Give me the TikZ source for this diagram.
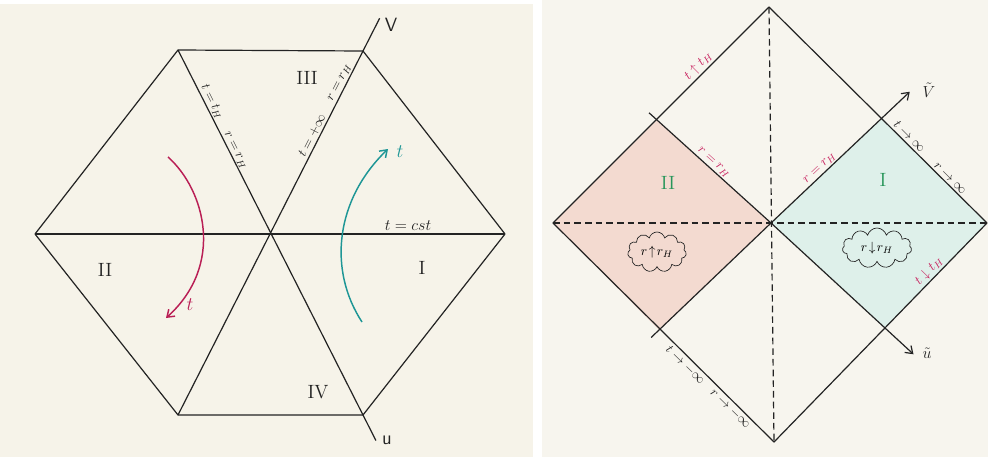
\documentclass[tikz,border=0pt]{standalone}
\usetikzlibrary{arrows.meta,shapes.symbols,calc}
\definecolor{paperL}{RGB}{246,243,233}
\definecolor{paperR}{RGB}{247,245,238}
\definecolor{pinkfill}{RGB}{243,218,208}
\definecolor{tealfill}{RGB}{222,240,234}
\definecolor{mag}{RGB}{200,35,95}
\definecolor{redpen}{RGB}{185,30,85}
\definecolor{tealpen}{RGB}{30,150,150}
\definecolor{greenpen}{RGB}{40,150,90}
\definecolor{ink}{RGB}{35,35,35}
\begin{document}
\begin{tikzpicture}[x=0.75pt,y=-0.75pt,
  pen/.style={ink, line width=0.9pt},
  dashline/.style={ink, line width=0.9pt, dash pattern=on 5pt off 3pt},
  lbl/.style={font=\normalsize, inner sep=1.5pt, ink},
  mlbl/.style={font=\normalsize, inner sep=1.5pt, mag},
  roman/.style={font=\Large, ink},
  groman/.style={font=\Large, greenpen},
  tip/.style={-{Straight Barb[length=5pt,width=7pt]}},
  cloudbox/.style={cloud, draw=ink, line width=0.5pt, cloud puffs=11, aspect=1.7, inner sep=0pt, font=\normalsize}
]
\useasboundingbox (0,0) rectangle (988,457);
\fill[white] (0,0) rectangle (988,457);
\fill[paperL] (0,4) rectangle (533,457);
\fill[paperR] (542,0) rectangle (988,457);

% ---------------- left: hexagon ----------------
\coordinate (A) at (35,234);
\coordinate (B) at (178,50);
\coordinate (TR) at (363,51);
\coordinate (D) at (505,234);
\coordinate (BR) at (363,415);
\coordinate (BL) at (178,415);
\coordinate (O) at (270,234);
\coordinate (Vend) at ($(BL)!1.09!(TR)$);
\coordinate (Uend) at ($(B)!1.07!(BR)$);

\draw[pen, line join=round] (A) -- (B) -- (TR) -- (D) -- (BR) -- (BL) -- cycle;
\draw[pen] (A) -- (D);
\draw[pen] (B) -- (Uend);
\draw[pen] (BL) -- (Vend);

\node[lbl, font=\Large\sffamily] (Vlab) at (391,25) {V};
\node[lbl, font=\Large\sffamily] (ulab) at (387,440) {u};

\node[roman] (r3) at (307,78) {III};
\node[roman] (r4) at (318,392) {IV};
\node[roman] (r2) at (105,270) {II};
\node[roman] (r1) at (422,268) {I};

\path (B) -- (O)
  node[lbl, pos=0.30, sloped, above] (ltH) {$t=t_H$}
  node[lbl, pos=0.56, sloped, above] (lrH) {$r=r_H$};
\path (O) -- (TR)
  node[lbl, pos=0.52, sloped, above] (ltinf) {$t=+\infty$}
  node[lbl, pos=0.81, sloped, above] (lrH2) {$r=r_H$};
\node[lbl, font=\large, anchor=south] (tcst) at (408,233) {$t=cst$};

\coordinate (rs) at (168,157);
\coordinate (re) at (166,318);
\draw[redpen, line width=1.1pt, tip] (rs) .. controls (205,190) and (225,265) .. (re);
\node[font=\Large, redpen] (rt) at (190,305) {$t$};

\coordinate (ts) at (362,322);
\coordinate (te) at (388,149);
\draw[tealpen, line width=1.1pt, tip] (ts) .. controls (328,270) and (335,200) .. (te);
\node[font=\Large, tealpen] (tt) at (400,152) {$t$};

% ---------------- right: Penrose diagram ----------------
\coordinate (T) at (769,7);
\coordinate (L) at (553,223);
\coordinate (R) at (987,223);
\coordinate (Bt) at (774,442);
\coordinate (C) at (771,223);
\coordinate (UL) at (657,120);
\coordinate (UR) at (882,118);
\coordinate (LL) at (659,330);
\coordinate (LR) at (885,328);
\coordinate (ULx) at ($(C)!1.07!(UL)$);
\coordinate (LLx) at ($(C)!1.07!(LL)$);
\coordinate (Vt) at ($(C)!1.25!(UR)$);
\coordinate (Ut) at ($(C)!1.25!(LR)$);

\fill[pinkfill] (L) -- (UL) -- (C) -- (LL) -- cycle;
\fill[tealfill] (C) -- (UR) -- (R) -- (LR) -- cycle;

\draw[dashline] (L) -- (R);
\draw[dashline] (T) -- (Bt);

\draw[pen, line join=round] (T) -- (R) -- (Bt) -- (L) -- cycle;
\draw[pen] (C) -- (ULx);
\draw[pen] (C) -- (LLx);
\draw[pen, tip] (C) -- (Vt);
\draw[pen, tip] (C) -- (Ut);

\node[lbl, font=\large] (Vtl) at (929,90) {$\tilde{V}$};
\node[lbl, font=\large] (Utl) at (927,353) {$\tilde{u}$};

\node[groman] (g2) at (668,183) {II};
\node[groman] (g1) at (883,180) {I};

\path (L) -- (T)
  node[mlbl, pos=0.70, sloped, above] (m1) {$t\uparrow t_H$};
\path (UL) -- (C)
  node[mlbl, pos=0.46, sloped, above] (m2) {$r=r_H$};
\path (C) -- (UR)
  node[mlbl, pos=0.48, sloped, above] (m3) {$r=r_H$};
\path (UR) -- (R)
  node[lbl, pos=0.22, sloped, above] (k1) {$t\to\infty$}
  node[lbl, pos=0.61, sloped, above] (k2) {$r\to\infty$};
\path (LR) -- (R)
  node[mlbl, pos=0.49, sloped, above] (m4) {$t\downarrow t_H$};
\path (LL) -- (Bt)
  node[lbl, pos=0.27, sloped, below] (k3) {$t\to-\infty$}
  node[lbl, pos=0.66, sloped, below] (k4) {$r\to-\infty$};

\node[cloudbox, minimum width=44pt, minimum height=30pt] (c1) at (657,252) {$r\!\uparrow\! r_H$};
\node[cloudbox, minimum width=52pt, minimum height=30pt] (c2) at (877,248) {$r\!\downarrow\! r_H$};
\end{tikzpicture}
\end{document}
